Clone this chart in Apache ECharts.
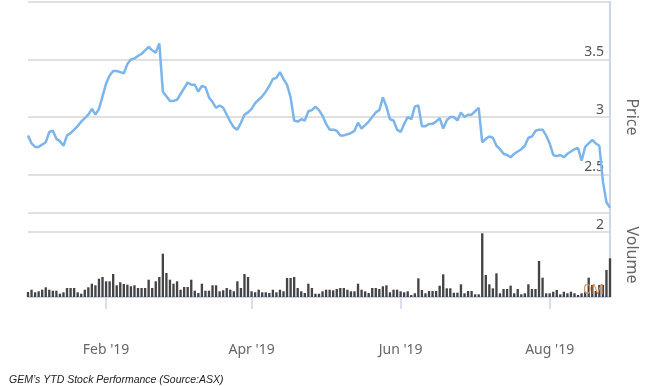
<!DOCTYPE html>
<html><head><meta charset="utf-8">
<script src="https://cdn.jsdelivr.net/npm/echarts@6/dist/echarts.min.js"></script>
<style>html,body{margin:0;padding:0;background:#fff}#c{width:648px;height:386px}</style>
</head><body><div id="c"></div>
<script>
// Trading-day categories (ASX): weekdays from 31 Dec 2018 to 26 Aug 2019, minus exchange holidays
const startDate = '2018-12-31';
const endDate = '2019-08-26';
const holidays = ['2019-01-01','2019-01-28','2019-04-19','2019-04-22','2019-04-25','2019-06-10'];
const labelMonths = [1, 3, 5, 7]; // Feb, Apr, Jun, Aug
const monthNames = ['Jan','Feb','Mar','Apr','May','Jun','Jul','Aug','Sep','Oct','Nov','Dec'];

const dates = [];
for (let d = new Date(startDate + 'T00:00:00Z'); d <= new Date(endDate + 'T00:00:00Z'); d.setUTCDate(d.getUTCDate() + 1)) {
  const s = d.toISOString().slice(0, 10);
  const wd = d.getUTCDay();
  if (wd !== 0 && wd !== 6 && holidays.indexOf(s) < 0) dates.push(s);
}

// Closing price (AUD)
const price = [
 2.84,2.77,2.74,2.74,2.76,2.78,2.87,2.88,2.81,2.79,
 2.75,2.84,2.86,2.89,2.92,2.96,2.99,3.02,3.07,3.02,
 3.07,3.18,3.29,3.36,3.40,3.40,3.39,3.38,3.46,3.50,
 3.51,3.53,3.55,3.58,3.61,3.58,3.56,3.64,3.22,3.18,
 3.14,3.14,3.15,3.20,3.25,3.30,3.28,3.28,3.22,3.27,
 3.26,3.17,3.13,3.08,3.10,3.08,3.02,2.96,2.91,2.89,
 2.95,3.02,3.04,3.07,3.12,3.15,3.18,3.22,3.27,3.33,
 3.34,3.39,3.33,3.28,3.17,2.97,2.96,2.98,2.97,3.05,
 3.06,3.09,3.06,3.01,2.94,2.89,2.89,2.88,2.84,2.84,
 2.85,2.86,2.88,2.95,2.90,2.93,2.96,3.00,3.04,3.06,
 3.17,3.09,2.98,2.97,2.89,2.87,2.94,3.00,2.98,3.09,
 3.10,2.92,2.92,2.94,2.94,2.96,2.99,2.90,2.97,3.00,
 3.00,2.97,3.04,3.00,3.02,3.02,3.05,3.08,2.78,2.81,
 2.83,2.82,2.75,2.72,2.68,2.67,2.65,2.68,2.70,2.72,
 2.75,2.82,2.83,2.88,2.89,2.89,2.84,2.77,2.67,2.66,
 2.67,2.65,2.68,2.70,2.72,2.73,2.62,2.74,2.77,2.80,
 2.77,2.75,2.44,2.26,2.21
];

// Volume (thousand shares)
const volume = [
 100,146,94,114,146,194,146,126,126,66,
 94,180,180,180,94,66,146,194,266,234,
 366,400,314,314,460,234,294,260,246,214,
 234,180,180,180,346,180,314,400,866,480,
 346,266,314,146,200,200,346,126,80,266,
 126,126,234,234,114,134,180,146,114,314,
 180,460,400,114,94,146,94,94,80,146,
 94,146,114,380,380,400,180,114,80,266,
 180,66,66,114,146,146,134,160,180,180,
 146,114,114,266,146,114,80,180,180,160,
 214,234,94,146,146,114,94,114,40,74,
 374,140,74,120,120,120,226,454,174,174,
 86,86,254,74,120,120,54,54,1274,440,
 254,174,474,74,160,160,226,74,160,54,
 74,254,160,160,720,386,74,74,106,140,
 54,106,74,106,74,40,74,106,386,240,
 120,240,240,540,774
];

const priceTicks = { min: 2, max: 4, interval: 0.5 };
const volumeTicks = { min: 0, max: 1680, interval: 1680 };
const caption = "GEM\u2019s YTD Stock Performance (Source:ASX)";

function isMonthStart(idx) {
  if (idx === 0) return false;
  const m = +dates[idx].slice(5, 7) - 1;
  const pm = +dates[idx - 1].slice(5, 7) - 1;
  return m !== pm && labelMonths.indexOf(m) >= 0;
}

const FONT = 'Noto Sans';
const chart = echarts.init(document.getElementById('c'), null, { renderer: 'canvas' });
chart.setOption({
  animation: false,
  backgroundColor: '#ffffff',
  title: {
    text: caption, left: 4, top: 370,
    textStyle: { fontFamily: 'Liberation Sans', fontStyle: 'italic', fontWeight: 'normal', fontSize: 10.5, color: '#222' }
  },
  grid: [
    { left: 28, right: 30, top: 2, height: 230 },
    { left: 28, right: 30, top: 213, height: 84 }
  ],
  xAxis: [
    { type: 'category', gridIndex: 0, data: dates, boundaryGap: false, show: false },
    {
      type: 'category', gridIndex: 1, data: dates, boundaryGap: false, offset: 32,
      axisLine: { lineStyle: { color: '#ccd6eb', width: 2 } },
      axisTick: { length: 12, lineStyle: { color: '#ccd6eb', width: 1.5 }, interval: (i) => isMonthStart(i) },
      axisLabel: {
        interval: (i) => isMonthStart(i), margin: 14, fontFamily: FONT, fontSize: 14, color: '#666',
        formatter: (v) => monthNames[+v.slice(5, 7) - 1] + " '" + v.slice(2, 4)
      },
      splitLine: { show: false }
    }
  ],
  yAxis: [
    {
      type: 'value', gridIndex: 0, position: 'right', min: priceTicks.min, max: priceTicks.max, interval: priceTicks.interval,
      name: 'Price', nameLocation: 'middle', nameRotate: -90, nameGap: 14,
      nameTextStyle: { fontFamily: FONT, fontSize: 16, color: '#666' },
      axisLine: { show: true, lineStyle: { color: '#ccd6eb', width: 2 } },
      axisTick: { show: false },
      axisLabel: { inside: true, showMaxLabel: false, margin: 6, verticalAlign: 'bottom', fontFamily: FONT, fontSize: 14, color: '#555' },
      splitLine: { lineStyle: { color: '#d6d6d6', width: 1.5 } }
    },
    {
      type: 'value', gridIndex: 1, position: 'right', min: volumeTicks.min, max: volumeTicks.max, interval: volumeTicks.interval,
      name: 'Volume', nameLocation: 'middle', nameRotate: -90, nameGap: 14,
      nameTextStyle: { fontFamily: FONT, fontSize: 16, color: '#666' },
      axisLine: { show: true, lineStyle: { color: '#ccd6eb', width: 2 } },
      axisTick: { show: false },
      axisLabel: { show: false },
      splitLine: { show: false }
    },
    {
      type: 'value', gridIndex: 1, position: 'right', min: volumeTicks.min, max: volumeTicks.max, interval: volumeTicks.interval, z: 10,
      axisLine: { show: false }, axisTick: { show: false }, splitLine: { show: false },
      axisLabel: { inside: true, showMaxLabel: false, margin: 6, verticalAlign: 'bottom', fontFamily: FONT, fontSize: 14, color: '#d9935a',
        formatter: (v) => (v / 1000) + 'M' }
    }
  ],
  series: [
    {
      type: 'bar', xAxisIndex: 1, yAxisIndex: 1, data: volume, barWidth: '66%', clip: false,
      itemStyle: { color: '#434348' },
      markLine: { silent: true, symbol: 'none', label: { show: false }, lineStyle: { color: '#d6d6d6', width: 1.5, type: 'solid' },
        data: [{ yAxis: volumeTicks.max }] }
    },
    {
      type: 'line', xAxisIndex: 0, yAxisIndex: 0, data: price, symbol: 'none',
      lineStyle: { color: '#7cb5ec', width: 2.5 }, z: 5
    }
  ]
});
</script></body></html>
